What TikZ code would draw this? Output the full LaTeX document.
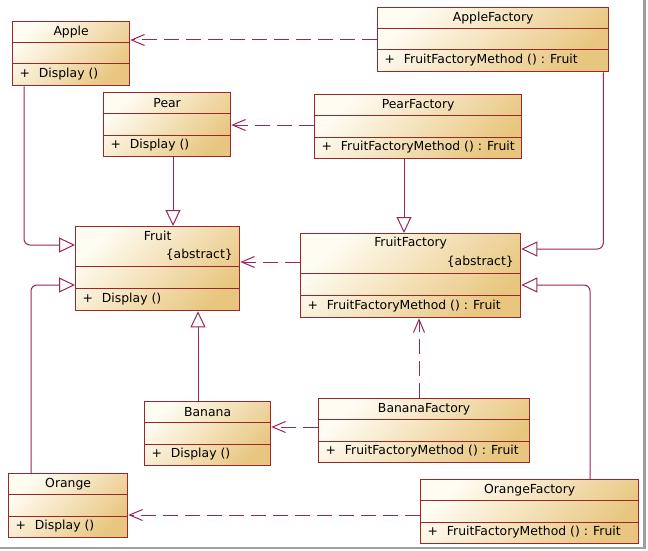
\documentclass[tikz,border=0pt]{standalone}
\usepackage{fontspec}
\setmainfont{DejaVu Sans}
\usetikzlibrary{arrows.meta,calc}
\definecolor{clsedge}{RGB}{155,40,40}
\definecolor{clslight}{RGB}{255,252,242}
\definecolor{clsdark}{RGB}{232,198,128}
\definecolor{lnk}{RGB}{150,38,92}

% plain class box: name, north west corner, width, title, operation
\newcommand\fruitcls[5]{%
 \node[cls,minimum width=#3,minimum height=64] (#1) at (#2) {};
 \draw[edge] ([yshift=-21.5pt]#1.north west) -- ([yshift=-21.5pt]#1.north east);
 \draw[edge] ([yshift=-43pt]#1.north west) -- ([yshift=-43pt]#1.north east);
 \node (#1-name) at ([yshift=-11pt]#1.north) {#4};
 \node[anchor=west] (#1-op) at ([xshift=4pt,yshift=-53.5pt]#1.north west) {+\hspace{9pt}#5};
}
% abstract class box, same arguments
\newcommand\abscls[5]{%
 \node[cls,minimum width=#3,minimum height=84] (#1) at (#2) {};
 \draw[edge] ([yshift=-40pt]#1.north west) -- ([yshift=-40pt]#1.north east);
 \draw[edge] ([yshift=-62pt]#1.north west) -- ([yshift=-62pt]#1.north east);
 \node (#1-name) at ([yshift=-10pt]#1.north) {#4};
 \node[anchor=east] (#1-tag) at ([xshift=-4pt,yshift=-29pt]#1.north east) {\{abstract\}};
 \node[anchor=west] (#1-op) at ([xshift=4pt,yshift=-73pt]#1.north west) {+\hspace{9pt}#5};
}

\begin{document}
\begin{tikzpicture}[x=1pt,y=-1pt,
    cls/.style={draw=clsedge,line width=1.3pt,top color=clslight,bottom color=clsdark,
                shading angle=45,anchor=north west,inner sep=0pt},
    edge/.style={draw=clsedge,line width=1pt},
    inherit/.style={draw=lnk,line width=1pt,rounded corners=6pt,
                    -{Triangle[open,fill=white,length=16pt,width=15pt]}},
    depend/.style={draw=lnk,line width=1pt,dash pattern=on 15pt off 7pt,
                   -{Straight Barb[length=13pt,width=11pt]}},
    every node/.style={font=\fontsize{12.4}{14}\selectfont}]
 \useasboundingbox (0,0) rectangle (648,551);
 \draw[gray!75,line width=2.5pt] (0,548) -- (644.5,548) -- (644.5,0);

 \fruitcls{apple}{12,21}{117}{Apple}{Display ()}
 \fruitcls{pear}{103,92}{127}{Pear}{Display ()}
 \abscls{fruit}{75,226}{164}{Fruit}{Display ()}
 \fruitcls{banana}{144,401}{126}{Banana}{Display ()}
 \fruitcls{orange}{8,473}{119}{Orange}{Display ()}
 \fruitcls{applefactory}{377,7}{231}{AppleFactory}{FruitFactoryMethod () : Fruit}
 \fruitcls{pearfactory}{314,94}{207}{PearFactory}{FruitFactoryMethod () : Fruit}
 \abscls{fruitfactory}{300,233}{220}{FruitFactory}{FruitFactoryMethod () : Fruit}
 \fruitcls{bananafactory}{318,398}{211}{BananaFactory}{FruitFactoryMethod () : Fruit}
 \fruitcls{orangefactory}{420,479}{218}{OrangeFactory}{FruitFactoryMethod () : Fruit}

 % generalizations
 \draw[inherit] ([xshift=12pt]apple.south west) |- ([yshift=-19pt]fruit.north west);
 \draw[inherit] ([xshift=23pt]orange.north west) |- ([yshift=-59pt]fruit.north west);
 \draw[inherit] ([xshift=70pt]pear.south west) -- ([xshift=70pt]pear.south west |- fruit.north);
 \draw[inherit] ([xshift=54pt]banana.north west) -- ([xshift=54pt]banana.north west |- fruit.south);
 \draw[inherit] ([xshift=-6pt]applefactory.south east) |- ([yshift=-16pt]fruitfactory.north east);
 \draw[inherit] ([xshift=170pt]orangefactory.north west) |- ([yshift=-52pt]fruitfactory.north east);
 \draw[inherit] ([xshift=90pt]pearfactory.south west) -- ([xshift=90pt]pearfactory.south west |- fruitfactory.north);

 % dependencies
 \draw[depend] ([yshift=-19pt]apple.north east -| applefactory.west) -- ([yshift=-19pt]apple.north east);
 \draw[depend] ([yshift=-33pt]pear.north east -| pearfactory.west) -- ([yshift=-33pt]pear.north east);
 \draw[depend] ([yshift=-36pt]fruit.north east -| fruitfactory.west) -- ([yshift=-36pt]fruit.north east);
 \draw[depend] ([xshift=101pt]bananafactory.north west) -- ([xshift=101pt]bananafactory.north west |- fruitfactory.south);
 \draw[depend] ([yshift=-26pt]banana.north east -| bananafactory.west) -- ([yshift=-26pt]banana.north east);
 \draw[depend] ([yshift=-42pt]orange.north east -| orangefactory.west) -- ([yshift=-42pt]orange.north east);
\end{tikzpicture}
\end{document}
